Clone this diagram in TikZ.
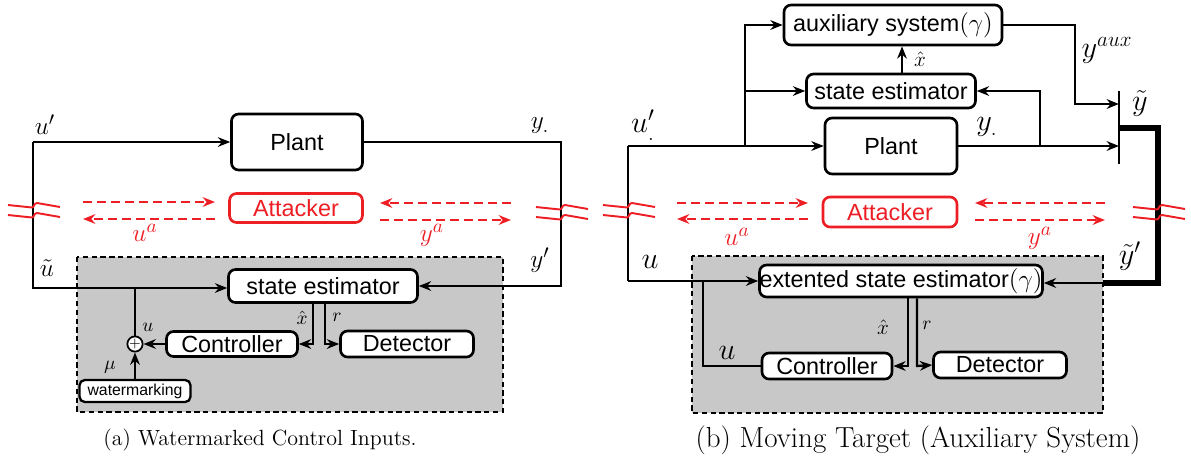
\documentclass[tikz,border=0pt]{standalone}
\usepackage{amsmath,amssymb}
\usepackage{fontspec}
\newfontfamily\arialfont{Liberation Sans}
\usepackage{tikz}
\usetikzlibrary{arrows.meta}
\definecolor{atkred}{RGB}{237,30,36}
\definecolor{boxgray}{RGB}{200,200,200}

\tikzset{
  blk/.style={draw, line width=1.5pt, rounded corners=4pt, fill=white, inner sep=0pt,
    font=\arialfont\fontsize{13.3}{15}\selectfont},
  atk/.style={blk, draw=atkred, text=atkred},
  sig/.style={line width=1.3pt, -{Stealth[length=7pt,width=5.5pt]}},
  wire/.style={line width=1.3pt},
  atkarr/.style={atkred, line width=1.1pt, dash pattern=on 5pt off 3pt,
    -{Stealth[length=7pt,width=5.5pt]}},
  lab/.style={font=\fontsize{15}{17}\selectfont, inner sep=0pt},
  labB/.style={font=\fontsize{16.5}{19}\selectfont, inner sep=0pt},
  slab/.style={font=\fontsize{10.5}{12}\selectfont, inner sep=0pt},
  grp/.style={draw, line width=0.9pt, dash pattern=on 3pt off 2pt, fill=boxgray},
  brk/.pic={
    \foreach \dy in {0,10} {
      \draw[atkred, line width=1.1pt] (-25,-5+\dy) -- (-1,-2.5+\dy)
        .. controls (1,-2.5+\dy) and (1,-7+\dy) .. (4,-7+\dy) -- (27,-3+\dy);
    }
  }
}

\begin{document}
\begin{tikzpicture}[x=0.02cm, y=-0.02cm]
  \useasboundingbox (0,0) rectangle (1191,461);

  % --- (a) watermarked control inputs -------------------------------------
  \draw[grp] (77,257) rectangle (503,412);
  \node[blk, minimum width=2.62cm, minimum height=1.12cm] (plantA) at (297,142) {Plant};
  \node[atk, minimum width=2.66cm, minimum height=0.58cm] (atkA) at (296,208) {Attacker};
  \node[blk, minimum width=3.78cm, minimum height=0.66cm] (estA) at (323,286) {state estimator};
  \node[blk, minimum width=2.62cm, minimum height=0.5cm] (ctrlA) at (232,344) {Controller};
  \node[blk, minimum width=2.66cm, minimum height=0.52cm] (detA) at (407,344) {Detector};
  \node[circle, draw, line width=1pt, fill=white, minimum size=0.28cm, inner sep=0pt,
        font=\fontsize{8}{8}\selectfont] (sumA) at (135,344) {$+$};
  \node[blk, line width=1.3pt, rounded corners=3pt, minimum width=2.22cm, minimum height=0.44cm,
        font=\arialfont\fontsize{9}{10}\selectfont] (wmA) at (135,391) {watermarking};

  \coordinate (inA) at (33,142);
  \coordinate (fbA) at (33,288);
  \coordinate (outA) at (561,142);
  \coordinate (retA) at (561,286);
  \coordinate (xA) at (313,344);
  \coordinate (rA) at (325,344);

  \draw[sig] (inA) -- (plantA.west);
  \draw[sig] (inA) -- (fbA) -- (fbA -| estA.west);
  \draw[wire] (sumA.north) -- (sumA.north |- fbA);
  \draw[sig] (ctrlA.west) -- (sumA.east);
  \draw[sig] (wmA.north) -- (sumA.south);
  \draw[sig] (xA |- estA.south) -- (xA) -- (ctrlA.east);
  \draw[sig] (rA |- estA.south) -- (rA) -- (detA.west);
  \draw[sig] (plantA.east) -- (outA) -- (retA) -- (estA.east);

  \pic at (33,210) {brk};
  \pic at (561,212) {brk};

  % attacker channels
  \coordinate (uaA1) at (83,202);  \coordinate (uaA2) at (215,202);
  \coordinate (uaA3) at (83,219);  \coordinate (uaA4) at (215,219);
  \coordinate (yaA1) at (380,203); \coordinate (yaA2) at (511,203);
  \coordinate (yaA3) at (380,220); \coordinate (yaA4) at (511,220);
  \draw[atkarr] (uaA1) -- (uaA2);
  \draw[atkarr] (uaA4) -- (uaA3);
  \draw[atkarr] (yaA2) -- (yaA1);
  \draw[atkarr] (yaA3) -- (yaA4);

  \node[lab] (upA) at (45,125) {$u'$};
  \node[lab] (utA) at (47,268) {$\tilde u$};
  \node[lab] (yA) at (540,126) {$y_{.}$};
  \node[lab] (ypA) at (540,260) {$y'$};
  \node[lab, text=atkred] (uaA) at (145,233) {$u^a$};
  \node[lab, text=atkred] (yaA) at (432,235) {$y^a$};
  \node[slab] (uA) at (148,327) {$u$};
  \node[slab] (xhA) at (302,318) {$\hat x$};
  \node[slab] (rlA) at (337,317) {$r$};
  \node[slab] (muA) at (110,367) {$\mu$};
  \node[font=\fontsize{12.5}{14}\selectfont] (capA) at (260,440) {(a) Watermarked Control Inputs.};

  % --- (b) moving target with auxiliary system ----------------------------
  \draw[grp] (692,256) rectangle (1103,413);
  \node[blk, minimum width=4.36cm, minimum height=0.8cm] (auxB) at (893,25) {auxiliary system$(\gamma)$};
  \node[blk, minimum width=3.38cm, minimum height=0.68cm] (estB) at (891,91) {state estimator};
  \node[blk, minimum width=2.64cm, minimum height=1.12cm] (plantB) at (891,146) {Plant};
  \node[atk, minimum width=2.68cm, minimum height=0.6cm] (atkB) at (890,212) {Attacker};
  \node[blk, minimum width=5.58cm, minimum height=0.64cm] (xestB) at (901,281) {extented state estimator$(\gamma)$};
  \node[blk, minimum width=2.6cm, minimum height=0.52cm] (ctrlB) at (827,366) {Controller};
  \node[blk, minimum width=2.66cm, minimum height=0.52cm] (detB) at (1000,365) {Detector};

  \coordinate (inB) at (628,146);
  \coordinate (fbB) at (628,281);
  \coordinate (brB) at (745,146);
  \coordinate (outB) at (1040,146);
  \coordinate (hatB) at (902,0);
  \coordinate (barT) at (1119,91);
  \coordinate (barB) at (1119,164);
  \coordinate (auxC) at (1075,104);
  \coordinate (tk1) at (1119,128);
  \coordinate (tk2) at (1158,128);
  \coordinate (tk3) at (1158,283);
  \coordinate (tk4) at (1103,283);
  \coordinate (xB) at (908,366);
  \coordinate (rB) at (917,366);
  \coordinate (uB) at (703,366);

  \draw[sig] (inB) -- (plantB.west);
  \draw[wire] (inB) -- (fbB);
  \draw[sig] (fbB) -- (xestB.west);
  \draw[sig] (brB) |- (auxB.west);
  \draw[sig] (brB |- estB.west) -- (estB.west);
  \draw[sig] (hatB |- estB.north) -- (hatB |- auxB.south);
  \draw[sig] (plantB.east) -- (plantB.east -| barT);
  \draw[sig] (outB) |- (estB.east);
  \draw[sig] (auxB.east) -| (auxC) -- (auxC -| barT);
  \draw[line width=1.6pt] (barT) -- (barB);
  \draw[line width=3pt] (tk1) -- (tk2) -- (tk3) -- (tk4);
  \draw[sig] (tk4) -- (tk4 -| xestB.east);
  \draw[sig] (xB |- xestB.south) -- (xB) -- (ctrlB.east);
  \draw[sig] (rB |- xestB.south) -- (rB) -- (detB.west);
  \draw[wire] (ctrlB.west) -| (uB |- fbB);

  \pic at (628,210) {brk};
  \pic at (1158,212) {brk};

  \coordinate (uaB1) at (677,203);  \coordinate (uaB2) at (808,203);
  \coordinate (uaB3) at (677,219);  \coordinate (uaB4) at (808,219);
  \coordinate (yaB1) at (975,203);  \coordinate (yaB2) at (1105,203);
  \coordinate (yaB3) at (975,220);  \coordinate (yaB4) at (1105,220);
  \draw[atkarr] (uaB1) -- (uaB2);
  \draw[atkarr] (uaB4) -- (uaB3);
  \draw[atkarr] (yaB2) -- (yaB1);
  \draw[atkarr] (yaB3) -- (yaB4);

  \node[labB] (upB) at (643,125) {$u'_{.}$};
  \node[labB] (uB0) at (650,262) {$u$};
  \node[labB] (yB) at (987,127) {$y_{.}$};
  \node[labB] (yauxB) at (1107,50) {$y^{aux}$};
  \node[labB] (ytB) at (1140,103) {$\tilde y$};
  \node[labB] (ytpB) at (1130,256) {$\tilde y'$};
  \node[lab, text=atkred] (uaB) at (737,237) {$u^a$};
  \node[lab, text=atkred] (yaB) at (1040,238) {$y^a$};
  \node[slab, font=\fontsize{12}{14}\selectfont] (xhB0) at (920,59) {$\hat x$};
  \node[slab, font=\fontsize{12}{14}\selectfont] (xhB) at (883,327) {$\hat x$};
  \node[slab] (rlB) at (927,325) {$r$};
  \node[labB] (uB1) at (727,353) {$u$};
  \node[font=\fontsize{16.5}{19}\selectfont] (capB) at (918,440) {(b) Moving Target (Auxiliary System)};
\end{tikzpicture}
\end{document}
